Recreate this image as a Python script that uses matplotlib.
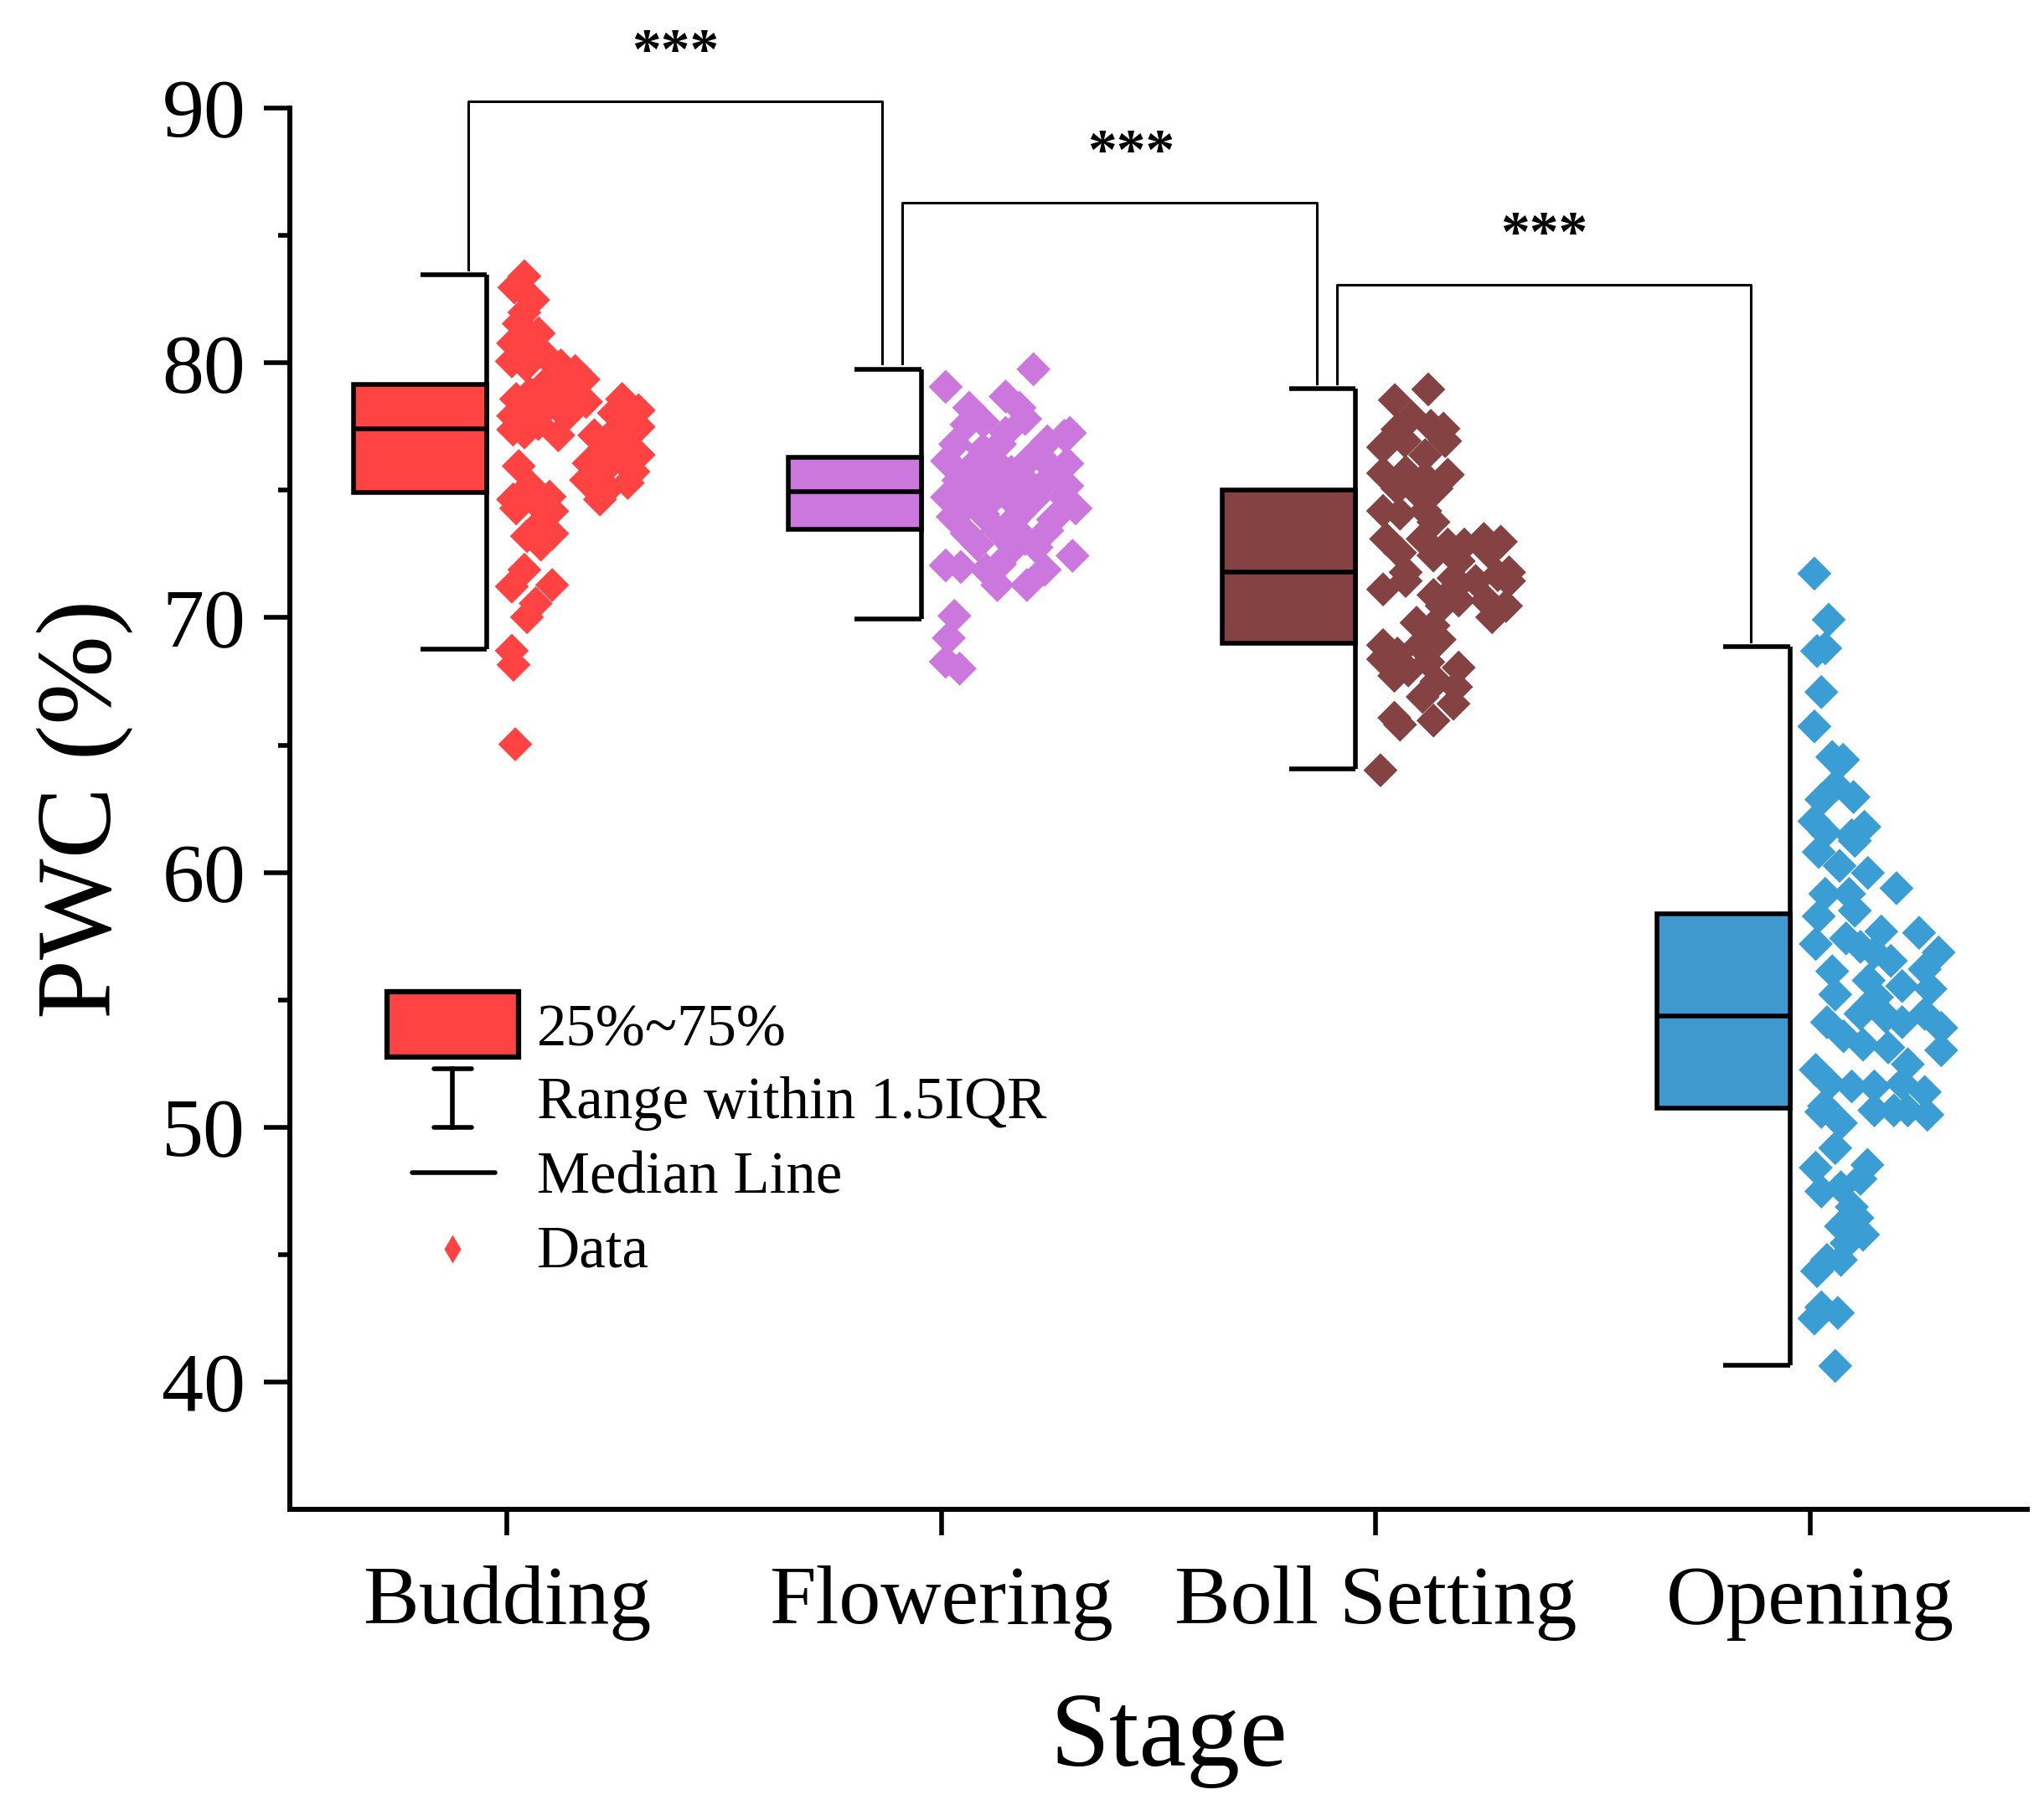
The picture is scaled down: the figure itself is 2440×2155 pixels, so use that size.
import numpy as np
import matplotlib.pyplot as plt
from matplotlib.patches import Rectangle

plt.rcParams['font.family'] = ['Liberation Serif', 'DejaVu Serif']

# ---- data ----
stages = ["Budding", "Flowering", "Boll Setting", "Opening"]
box_colors = ["#FF4242", "#CC77DD", "#844242", "#4099CE"]
dot_colors = ["#FF4242", "#CC77DD", "#844242", "#3A9DD4"]

q1 = [74.9, 73.47, 69.0, 50.75]
q3 = [79.15, 76.3, 75.0, 58.37]
medians = [77.4, 74.95, 71.78, 54.38]
whisker_low = [68.76, 69.94, 64.05, 40.67]
whisker_high = [83.45, 79.76, 79.0, 68.86]

budding_pwc = [82.96, 83.4, 82.47, 81.98, 81.54, 81.16, 80.77, 80.88, 80.06, 80.44,
               79.9, 79.9, 79.68, 79.46, 79.35, 79.13, 78.91, 78.58, 78.8, 78.47,
               78.36, 77.92, 78.03, 77.92, 77.27, 77.16, 77.38, 78.58, 78.14, 77.7,
               78.03, 77.16, 76.61, 76.83, 76.06, 75.73, 76.17, 75.73, 75.4, 75.07,
               75.29, 75.95, 75.18, 74.64, 74.75, 74.42, 76.39, 74.29, 74.18, 73.63,
               73.2, 73.3, 72.87, 71.88, 71.22, 71.28, 70.56, 70.02, 68.7, 68.15,
               65.03, 80.22, 78.58, 77.6, 77.27, 77.49, 74.64]
budding_jitter = [0.017, 0.040, 0.060, 0.040, 0.027, 0.073, 0.014, 0.046, 0.011, 0.066,
                  0.044, 0.124, 0.157, 0.118, 0.176, 0.085, 0.137, 0.021, 0.053, 0.182,
                  0.098, 0.014, 0.066, 0.137, 0.040, 0.118, 0.014, 0.265, 0.303, 0.278,
                  0.246, 0.201, 0.233, 0.272, 0.188, 0.220, 0.265, 0.291, 0.182, 0.233,
                  0.278, 0.027, 0.053, 0.014, 0.098, 0.072, 0.303, 0.021, 0.104, 0.072,
                  0.046, 0.104, 0.078, 0.040, 0.011, 0.104, 0.066, 0.046, 0.011, 0.015,
                  0.019, 0.092, 0.150, 0.072, 0.246, 0.303, 0.214]

flowering_pwc = [79.75, 79.06, 78.68, 78.24, 78.24, 77.8, 77.58, 77.25, 77.14, 77.25,
                 76.92, 76.81, 76.59, 76.15, 76.15, 76.26, 76.05, 75.39, 75.5, 75.39,
                 75.17, 75.17, 74.73, 74.73, 74.84, 74.62, 74.29, 73.96, 74.07, 74.07,
                 73.85, 73.31, 73.42, 73.09, 73.42, 72.87, 72.76, 72.05, 71.99, 71.88,
                 72.1, 71.28, 71.28, 71.88, 72.43, 70.07, 69.2, 68.27, 68.0, 75.72,
                 75.83, 75.83, 75.17, 74.62, 73.85, 74.73, 74.18, 72.76, 77.69, 76.81]
flowering_jitter = [0.212, 0.010, 0.148, 0.064, 0.180, 0.193, 0.058, 0.148, 0.283, 0.296,
                    0.244, 0.032, 0.096, 0.013, 0.122, 0.206, 0.290, 0.039, 0.180, 0.103,
                    0.231, 0.290, 0.013, 0.077, 0.148, 0.212, 0.309, 0.026, 0.096, 0.180,
                    0.257, 0.058, 0.129, 0.193, 0.244, 0.083, 0.167, 0.010, 0.045, 0.103,
                    0.135, 0.129, 0.197, 0.238, 0.302, 0.030, 0.017, 0.010, 0.042, 0.161,
                    0.064, 0.257, 0.206, 0.116, 0.167, 0.283, 0.045, 0.219, 0.096, 0.135]

boll_pwc = [78.96, 78.54, 77.88, 77.39, 77.53, 77.42, 76.69, 76.93, 76.93, 76.38,
            75.67, 75.72, 75.61, 75.5, 75.07, 74.96, 75.07, 74.19, 74.08, 74.19,
            73.75, 73.09, 73.09, 72.55, 72.87, 72.87, 73.09, 72.98, 72.55, 72.22,
            72.44, 71.78, 71.67, 71.78, 71.11, 71.44, 71.55, 71.44, 71.44, 70.67,
            70.46, 70.46, 70.67, 70.02, 69.8, 69.69, 68.92, 68.59, 68.92, 69.14,
            68.37, 67.93, 68.26, 68.04, 67.72, 67.5, 67.28, 66.89, 66.62, 66.07,
            65.8, 65.96, 64.01, 71.11, 70.89]
boll_jitter = [0.121, 0.044, 0.083, 0.050, 0.127, 0.156, 0.017, 0.067, 0.160, 0.114,
               0.017, 0.069, 0.166, 0.114, 0.050, 0.094, 0.140, 0.017, 0.056, 0.114,
               0.133, 0.024, 0.108, 0.056, 0.166, 0.204, 0.249, 0.288, 0.262, 0.191,
               0.133, 0.307, 0.281, 0.069, 0.017, 0.069, 0.179, 0.230, 0.307, 0.255,
               0.300, 0.152, 0.191, 0.268, 0.094, 0.133, 0.017, 0.050, 0.101, 0.147,
               0.017, 0.075, 0.121, 0.191, 0.043, 0.140, 0.185, 0.108, 0.179, 0.043,
               0.056, 0.133, 0.011, 0.179, 0.133]

opening_pwc = [71.73, 69.92, 68.69, 68.8, 67.08, 65.73, 64.53, 64.42, 63.41, 62.86,
               62.96, 62.01, 61.57, 61.46, 61.79, 60.8, 60.26, 61.24, 59.98, 59.16,
               59.16, 59.38, 58.28, 58.5, 57.68, 57.19, 57.41, 57.08, 56.86, 56.53,
               57.63, 56.86, 56.12, 55.21, 55.76, 55.1, 55.54, 56.2, 55.43, 54.45,
               54.34, 54.12, 53.57, 53.24, 53.13, 54.12, 54.45, 53.9, 53.02, 52.25,
               51.71, 51.6, 51.6, 52.47, 51.71, 51.38, 50.83, 50.6, 50.16, 50.66,
               50.66, 50.66, 50.49, 49.18, 48.41, 48.52, 47.97, 47.48, 47.64, 46.87,
               46.44, 46.11, 45.78, 45.45, 44.79, 44.79, 44.35, 42.93, 42.49, 42.71,
               40.63]
opening_jitter = [0.010, 0.043, 0.016, 0.035, 0.026, 0.010, 0.051, 0.076, 0.059, 0.026,
                  0.100, 0.010, 0.035, 0.096, 0.125, 0.020, 0.068, 0.103, 0.133, 0.035,
                  0.090, 0.199, 0.020, 0.103, 0.164, 0.013, 0.083, 0.116, 0.148, 0.186,
                  0.251, 0.296, 0.051, 0.058, 0.135, 0.154, 0.212, 0.264, 0.277, 0.116,
                  0.174, 0.039, 0.077, 0.122, 0.180, 0.212, 0.264, 0.302, 0.302, 0.013,
                  0.045, 0.096, 0.148, 0.225, 0.212, 0.264, 0.032, 0.026, 0.071, 0.148,
                  0.193, 0.225, 0.270, 0.058, 0.013, 0.132, 0.116, 0.026, 0.071, 0.096,
                  0.109, 0.071, 0.122, 0.084, 0.039, 0.071, 0.016, 0.026, 0.010, 0.064,
                  0.058]

all_pwc = [budding_pwc, flowering_pwc, boll_pwc, opening_pwc]
all_jitter = [budding_jitter, flowering_jitter, boll_jitter, opening_jitter]

# significance brackets between neighbouring stages
pairs = [(0, 1), (1, 2), (2, 3)]
bracket_tops = [90.26, 86.3, 83.08]
pair_labels = ["***", "***", "***"]

# ---- figure ----
fig = plt.figure(figsize=(24.4, 21.55), dpi=100)
ax = fig.add_axes([0.1418, 0.1638, 0.850, 0.7763])

lw = 4  # box / whisker line width
for i, stage in enumerate(stages):
    pos = i + 1
    left, right = pos - 0.353, pos - 0.046  # half box sits left of the tick
    ax.vlines(right, whisker_low[i], whisker_high[i], color="k", lw=lw, zorder=2)
    ax.hlines([whisker_low[i], whisker_high[i]], pos - 0.2, right, color="k", lw=lw, zorder=2)
    ax.add_patch(Rectangle((left, q1[i]), right - left, q3[i] - q1[i],
                           facecolor=box_colors[i], edgecolor="k", lw=lw, zorder=3))
    ax.hlines(medians[i], left, right, color="k", lw=lw, zorder=4)
    ax.scatter(pos + np.array(all_jitter[i]), all_pwc[i], marker="D", s=430,
               color=dot_colors[i], edgecolors="none", zorder=5)

star_shift = [0.0, 0.05, 0.0]  # the middle stars sit a bit right of centre
for (a, b), top, lab, dx in zip(pairs, bracket_tops, pair_labels, star_shift):
    x1, x2 = a + 1 - 0.09, b + 1 - 0.136
    y1, y2 = whisker_high[a] + 0.2, whisker_high[b] + 0.2
    ax.plot([x1, x1, x2, x2], [y1, top, top, y2], color="k", lw=2.2, clip_on=False)
    ax.text((x1 + x2) / 2 + dx, top + 1.3, lab, ha="center", va="baseline",
            fontsize=50, fontweight="bold")

ax.set_xlim(0.5, 4.5)
ax.set_ylim(35, 90)
ax.set_xticks(range(1, 5))
ax.set_xticklabels(stages)
ax.set_yticks(range(40, 91, 10))
ax.set_yticks(range(45, 90, 10), minor=True)
ax.tick_params(axis="both", which="major", direction="out", length=22, width=4, labelsize=72)
ax.tick_params(axis="x", which="major", pad=26)
ax.tick_params(axis="y", which="major", pad=16)
ax.tick_params(axis="y", which="minor", direction="out", length=10, width=4)
for side in ["top", "right"]:
    ax.spines[side].set_visible(False)
for side in ["left", "bottom"]:
    ax.spines[side].set_linewidth(4.3)

fig.text(0.572, 0.0218, "Stage", ha="center", va="baseline", fontsize=92)
fig.text(0.0415, 0.552, "PWC (%)", ha="center", va="center", rotation=90, fontsize=92)

# ---- hand-made legend (axes coordinates) ----
tr = ax.transAxes
ax.add_patch(Rectangle((0.0559, 0.3228), 0.0757, 0.0466, transform=tr,
                       facecolor=box_colors[0], edgecolor="k", lw=4.5, zorder=6))
ax.plot([0.0935, 0.0935], [0.2726, 0.3144], color="k", lw=4, transform=tr)
ax.plot([0.0829, 0.1046], [0.3144, 0.3144], color="k", lw=4, transform=tr, solid_capstyle="round")
ax.plot([0.0829, 0.1046], [0.2726, 0.2726], color="k", lw=4, transform=tr, solid_capstyle="round")
ax.plot([0.0704, 0.1181], [0.2403, 0.2403], color="k", lw=4, transform=tr, solid_capstyle="round")
ax.plot([0.0935], [0.1859], marker="d", ms=17, color=dot_colors[0], mec="none", transform=tr)
legend_labels = ["25%~75%", "Range within 1.5IQR", "Median Line", "Data"]
legend_base = [0.3311, 0.2791, 0.2259, 0.1733]
for lab, yb in zip(legend_labels, legend_base):
    ax.text(0.1422, yb, lab, transform=tr, ha="left", va="baseline", fontsize=51)

plt.savefig("out.png", dpi=100)
